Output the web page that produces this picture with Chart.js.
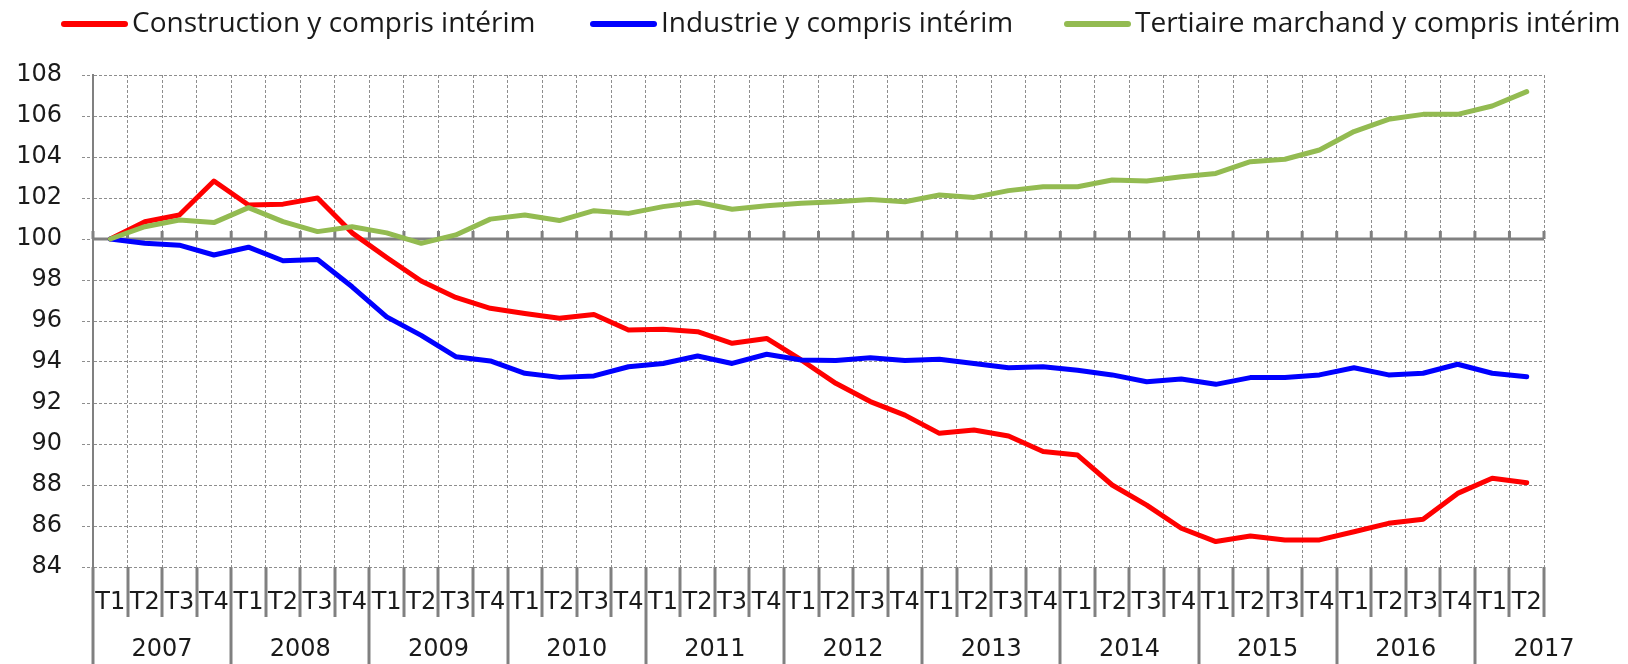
<!DOCTYPE html>
<html>
<head>
<meta charset="utf-8">
<script src="https://cdn.jsdelivr.net/npm/chart.js@4.4.1/dist/chart.umd.min.js"></script>
<style>
html,body{margin:0;padding:0;background:#fff;}
#wrap{position:relative;width:1628px;height:664px;}
canvas{display:block;}
</style>
</head>
<body>
<div id="wrap"><canvas id="c" width="1628" height="664"></canvas></div>
<script>
// ---- data ----
const years = ['2007','2008','2009','2010','2011','2012','2013','2014','2015','2016','2017'];
const quartersPerYear = [4,4,4,4,4,4,4,4,4,4,2];
const quarterNames = ['T1','T2','T3','T4'];
const seriesNames = ['Construction y compris intérim','Industrie y compris intérim','Tertiaire marchand y compris intérim'];
const construction = [100,100.84,101.17,102.83, 101.66,101.7,102.0,100.3, 99.1,97.95,97.15,96.62, 96.37,96.13,96.32,95.56, 95.6,95.48,94.91,95.15, 94.1,92.96,92.07,91.41, 90.52,90.68,90.39,89.63, 89.46,88.0,87.02,85.89, 85.24,85.51,85.32,85.32, 85.72,86.13,86.33,87.59, 88.33,88.11];
const industrie = [100,99.79,99.7,99.22, 99.6,98.94,99.0,97.67, 96.2,95.3,94.26,94.05, 93.45,93.25,93.32,93.77, 93.93,94.29,93.93,94.38, 94.1,94.07,94.21,94.07, 94.13,93.93,93.72,93.77, 93.6,93.37,93.04,93.17, 92.91,93.24,93.24,93.37, 93.72,93.37,93.45,93.89, 93.45,93.28];
const tertiaire = [100,100.6,100.93,100.8, 101.53,100.85,100.36,100.6, 100.3,99.79,100.2,100.97, 101.17,100.9,101.38,101.25, 101.58,101.79,101.45,101.62, 101.74,101.82,101.93,101.82, 102.15,102.03,102.36,102.55, 102.55,102.88,102.83,103.04, 103.2,103.77,103.89,104.34, 105.24,105.84,106.08,106.08, 106.49,107.19];
const yMin = 84, yMax = 108, yStep = 2, baseValue = 100;

// ---- derived categories ----
const labels = [];
const yearStart = [];
years.forEach((y, k) => {
  yearStart.push(labels.length);
  for (let q = 0; q < quartersPerYear[k]; q++) labels.push(quarterNames[q]);
});

const colors = ['#ff0000', '#0000ff', '#93bb51'];
const axisGray = '#808080';
const gridGray = '#8e8e8e';
const textColor = '#1a1a1a';

const decorPlugin = {
  id: 'decor',
  beforeDatasetsDraw(chart) {
    const ctx = chart.ctx, xs = chart.scales.x, ys = chart.scales.y;
    const yb = Math.round(ys.getPixelForValue(baseValue));
    const left = xs.left, right = xs.right;
    const w = (right - left) / labels.length;
    ctx.save();
    ctx.strokeStyle = axisGray;
    ctx.lineWidth = 3;
    ctx.beginPath();
    ctx.moveTo(left, yb);
    ctx.lineTo(right, yb);
    ctx.stroke();
    ctx.fillStyle = axisGray;
    for (let i = 0; i <= labels.length; i++) {
      const x = left + i * w;
      ctx.fillRect(x - 1.5, yb - 8, 3, 8);
    }
    ctx.restore();
  },
  afterDraw(chart) {
    const ctx = chart.ctx, xs = chart.scales.x;
    const left = xs.left, right = xs.right;
    const w = (right - left) / labels.length;
    const top = chart.chartArea.bottom;
    ctx.save();
    ctx.strokeStyle = axisGray;
    ctx.lineWidth = 3;
    for (let i = 0; i <= labels.length; i++) {
      const x = Math.round(left + i * w);
      const isYear = yearStart.includes(i);
      ctx.beginPath();
      ctx.moveTo(x, top);
      ctx.lineTo(x, isYear ? chart.height : top + 50);
      ctx.stroke();
    }
    ctx.fillStyle = textColor;
    ctx.font = '24px "DejaVu Sans"';
    ctx.textAlign = 'center';
    ctx.textBaseline = 'middle';
    years.forEach((y, k) => {
      const cx = left + (yearStart[k] + 2) * w;
      ctx.fillText(y, cx, 650);
    });
    // legend
    const starts = [61, 590, 1064];
    const ly = 24;
    ctx.font = '28px "Open Sans"';
    ctx.textAlign = 'left';
    chart.data.datasets.forEach((ds, k) => {
      const x0 = starts[k];
      ctx.strokeStyle = ds.borderColor;
      ctx.lineWidth = 6;
      ctx.lineCap = 'round';
      ctx.beginPath();
      ctx.moveTo(x0 + 3, ly);
      ctx.lineTo(x0 + 64, ly);
      ctx.stroke();
      ctx.fillStyle = textColor;
      ctx.fillText(ds.label, x0 + 71, ly);
    });
    ctx.restore();
  }
};

const mk = (name, data, color, order) => ({
  label: name, data, borderColor: color, backgroundColor: color,
  borderWidth: 5, pointRadius: 0, tension: 0, order,
  borderJoinStyle: 'round', borderCapStyle: 'round', fill: false
});

new Chart(document.getElementById('c'), {
  type: 'line',
  data: {
    labels,
    datasets: [
      mk(seriesNames[0], construction, colors[0], 3),
      mk(seriesNames[1], industrie, colors[1], 2),
      mk(seriesNames[2], tertiaire, colors[2], 1)
    ]
  },
  options: {
    responsive: false,
    devicePixelRatio: 1,
    animation: false,
    layout: { padding: { top: 75, right: 84, left: 0, bottom: 0 } },
    plugins: { legend: { display: false }, tooltip: { enabled: false } },
    scales: {
      x: {
        offset: true,
        afterFit(s) { s.height = 97; },
        grid: { offset: true, color: gridGray, lineWidth: 1, drawTicks: false },
        border: { display: false, dash: [3, 2] },
        ticks: { autoSkip: false, maxRotation: 0, padding: 21, color: textColor, font: { family: 'DejaVu Sans', size: 24 } }
      },
      y: {
        min: yMin, max: yMax,
        afterFit(s) { s.width = 93; },
        grid: { color: gridGray, lineWidth: 1, tickLength: 11, tickBorderDash: [3, 2], tickColor: gridGray },
        border: { display: true, color: axisGray, width: 2, dash: [3, 2] },
        ticks: { stepSize: yStep, padding: 20, color: textColor, font: { family: 'DejaVu Sans', size: 24 } }
      }
    }
  },
  plugins: [decorPlugin]
});
</script>
</body>
</html>
